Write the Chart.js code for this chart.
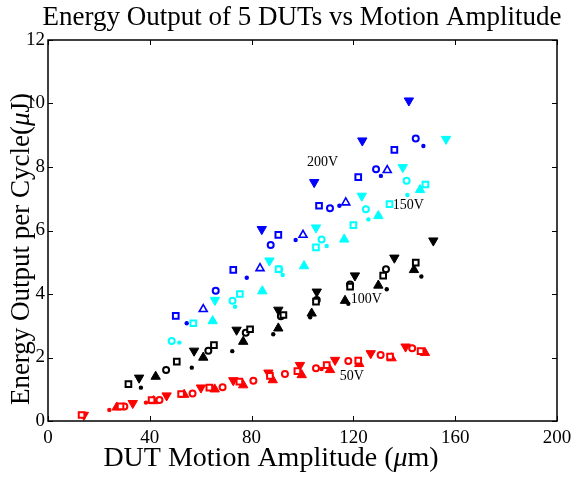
<!DOCTYPE html>
<html>
<head>
<meta charset="utf-8">
<script src="https://cdn.jsdelivr.net/npm/chart.js@4.4.0/dist/chart.umd.min.js"></script>
<style>
  html, body { margin: 0; padding: 0; background: #fff; }
</style>
</head>
<body>
<canvas id="energyChart" width="574" height="477"></canvas>
<script>
// Energy per cycle [uJ] against motion amplitude [um], as [amplitude, energy] pairs.
// Five DUTs (one marker each) measured at four drive voltages.

// 50 V
const sq50 = [[13.2, 0.19], [28.5, 0.46], [40.7, 0.66], [52.3, 0.85], [63.4, 1.05], [75.2, 1.24], [87.2, 1.42], [98, 1.57], [109.5, 1.76], [121.9, 1.90], [134.4, 2.03], [146.4, 2.2]];
const dot50 = [[24.1, 0.35], [38.5, 0.58], [107.5, 1.64]];
const circ50 = [[30, 0.46], [43.8, 0.66], [56.8, 0.87], [68.6, 1.06], [80.7, 1.27], [93.1, 1.48], [105.3, 1.66], [118, 1.89], [130.7, 2.08], [143.1, 2.29]];
const up50 = [[27, 0.43], [41.5, 0.63], [53.5, 0.83], [65.5, 1.0], [76.7, 1.13], [88.3, 1.29], [99.7, 1.45], [110.8, 1.61], [122.3, 1.8], [135, 1.98], [148.1, 2.15]];
const down50 = [[14.1, 0.19], [33.3, 0.56], [46.6, 0.8], [60.1, 1.05], [72.8, 1.28], [86.6, 1.52], [99, 1.76], [112.8, 1.92], [126.8, 2.13], [140.5, 2.34]];

// 100 V
const sq100 = [[31.6, 1.16], [50.6, 1.87], [65.2, 2.39], [79.4, 2.89], [92.5, 3.34], [105.3, 3.76], [118.7, 4.23], [131.7, 4.58], [144.5, 4.99]];
const dot100 = [[36.5, 1.05], [56.5, 1.68], [72.4, 2.2], [88.5, 2.73], [103, 3.27], [118, 3.69], [133.1, 4.15], [146.7, 4.55]];
const circ100 = [[46.4, 1.61], [63, 2.21], [77.7, 2.78], [91.5, 3.3], [105.6, 3.81], [118.7, 4.3], [132.8, 4.78]];
const up100 = [[42.3, 1.40], [61, 2.0], [76.7, 2.5], [90.5, 2.92], [103.6, 3.39], [116.7, 3.79], [129.8, 4.27], [143.8, 4.76]];
const down100 = [[35.8, 1.36], [57.4, 2.21], [74.1, 2.87], [90.5, 3.5], [105.6, 4.07], [120.6, 4.58], [136.1, 5.14], [151.4, 5.68]];

// 150 V
const sq150 = [[57.1, 3.08], [75.4, 4.0], [90.6, 4.78], [105.3, 5.47], [120, 6.17], [134.2, 6.83], [148.3, 7.45]];
const dot150 = [[51.6, 2.47], [73.5, 3.6], [92.2, 4.6], [109.5, 5.51], [125.9, 6.35], [141.2, 7.12]];
const circ150 = [[48.6, 2.52], [72.5, 3.79], [90.8, 4.78], [107.5, 5.72], [124.9, 6.67], [140.9, 7.57]];
const up150 = [[64.7, 3.15], [84.2, 4.09], [100.6, 4.88], [116.4, 5.72], [129.8, 6.46], [146.2, 7.28]];
const down150 = [[65.6, 3.81], [87, 5.05], [105.3, 6.09], [123.3, 7.09], [139.4, 7.99], [156.4, 8.88]];

// 200 V
const sq200 = [[50.2, 3.31], [72.8, 4.76], [90.5, 5.86], [106.5, 6.78], [121.9, 7.68], [136.1, 8.54]];
const dot200 = [[54.5, 3.08], [78.1, 4.51], [97.3, 5.7], [114.5, 6.78], [130.8, 7.72], [147.5, 8.66]];
const circ200 = [[65.9, 4.1], [87.5, 5.54], [110.8, 6.7], [128.9, 7.93], [144.5, 8.9]];
const up200 = [[61, 3.52], [83.3, 4.81], [100.2, 5.86], [117, 6.88], [133.3, 7.9]];
const down200 = [[84, 6.04], [104.6, 7.52], [123.5, 8.83], [141.8, 10.09]];

const xTicks = [0, 40, 80, 120, 160, 200];
const yTicks = [0, 2, 4, 6, 8, 10, 12];

// in-plot voltage tags, anchored in data units
const voltLabels = ['200V', '150V', '100V', '50V'];
const voltLabelX = [107.9, 141.6, 125.1, 119.4];
const voltLabelY = [8.14, 6.79, 3.83, 1.40];

const SERIF = '"Liberation Serif", "Times New Roman", serif';

const toPoints = pairs => pairs.map(p => ({ x: p[0], y: p[1] }));

// one dataset per DUT marker
function markerSet(label, pairs, color, kind, hollowTriangle) {
    const ds = {
        label,
        data: toPoints(pairs),
        borderColor: color,
        backgroundColor: color,
        pointHoverRadius: 0
    };
    if (kind === 'sq') {
        ds.pointStyle = 'rect';
        ds.pointRadius = 4;
        ds.borderWidth = 2;
        ds.backgroundColor = '#fff';
    } else if (kind === 'dot') {
        ds.pointStyle = 'circle';
        ds.pointRadius = 2.2;
        ds.borderWidth = 0;
    } else if (kind === 'circ') {
        ds.pointStyle = 'circle';
        ds.pointRadius = 3;
        ds.borderWidth = 2;
        ds.backgroundColor = '#fff';
    } else if (kind === 'up') {
        ds.pointStyle = 'triangle';
        ds.pointRadius = hollowTriangle ? 4.6 : 5.4;
        ds.borderWidth = hollowTriangle ? 1.6 : 1;
        if (hollowTriangle) ds.backgroundColor = '#fff';
    } else {
        ds.pointStyle = 'triangle';
        ds.pointRotation = 180;
        ds.pointRadius = 5.4;
        ds.borderWidth = 1;
    }
    return ds;
}

const RED = '#ff0000', BLACK = '#000000', CYAN = '#00ffff', BLUE = '#0000ff';

const datasets = [
    markerSet('50V sq', sq50, RED, 'sq'),
    markerSet('50V dot', dot50, RED, 'dot'),
    markerSet('50V circ', circ50, RED, 'circ'),
    markerSet('50V up', up50, RED, 'up'),
    markerSet('50V down', down50, RED, 'down'),
    markerSet('100V sq', sq100, BLACK, 'sq'),
    markerSet('100V dot', dot100, BLACK, 'dot'),
    markerSet('100V circ', circ100, BLACK, 'circ'),
    markerSet('100V up', up100, BLACK, 'up'),
    markerSet('100V down', down100, BLACK, 'down'),
    markerSet('150V sq', sq150, CYAN, 'sq'),
    markerSet('150V dot', dot150, CYAN, 'dot'),
    markerSet('150V circ', circ150, CYAN, 'circ'),
    markerSet('150V up', up150, CYAN, 'up'),
    markerSet('150V down', down150, CYAN, 'down'),
    markerSet('200V sq', sq200, BLUE, 'sq'),
    markerSet('200V dot', dot200, BLUE, 'dot'),
    markerSet('200V circ', circ200, BLUE, 'circ'),
    markerSet('200V up', up200, BLUE, 'up', true),
    markerSet('200V down', down200, BLUE, 'down')
];

// draws a string made of plain and italic pieces, centred on (cx, cy)
function drawMixed(ctx, parts, cx, cy, size) {
    const fonts = parts.map(p => (p.italic ? 'italic ' : '') + size + 'px ' + SERIF);
    let total = 0;
    parts.forEach((p, i) => { ctx.font = fonts[i]; total += ctx.measureText(p.text).width; });
    let x = cx - total / 2;
    ctx.textBaseline = 'middle';
    ctx.textAlign = 'left';
    parts.forEach((p, i) => {
        ctx.font = fonts[i];
        ctx.fillText(p.text, x, cy);
        x += ctx.measureText(p.text).width;
    });
}

const framePlugin = {
    id: 'frame',
    afterDatasetsDraw(chart) {
        const { ctx, chartArea: a, scales } = chart;
        const xs = scales.x, ys = scales.y;
        ctx.save();
        ctx.strokeStyle = '#000';
        ctx.lineWidth = 1.5;
        ctx.strokeRect(a.left, a.top, a.right - a.left, a.bottom - a.top);

        // inward tick marks on all four sides
        ctx.lineWidth = 1;
        ctx.beginPath();
        xTicks.forEach(v => {
            const px = Math.round(xs.getPixelForValue(v)) + 0.5;
            ctx.moveTo(px, a.bottom); ctx.lineTo(px, a.bottom - 5);
            ctx.moveTo(px, a.top); ctx.lineTo(px, a.top + 5);
        });
        yTicks.forEach(v => {
            const py = Math.round(ys.getPixelForValue(v)) + 0.5;
            ctx.moveTo(a.left, py); ctx.lineTo(a.left + 5, py);
            ctx.moveTo(a.right, py); ctx.lineTo(a.right - 5, py);
        });
        ctx.stroke();

        // voltage tags
        ctx.fillStyle = '#000';
        ctx.font = '14px ' + SERIF;
        ctx.textAlign = 'center';
        ctx.textBaseline = 'middle';
        voltLabels.forEach((t, i) => {
            ctx.fillText(t, xs.getPixelForValue(voltLabelX[i]), ys.getPixelForValue(voltLabelY[i]));
        });

        // title and axis titles
        ctx.font = '27px ' + SERIF;
        ctx.fillText('Energy Output of 5 DUTs vs Motion Amplitude', 302, 18);

        drawMixed(ctx, [
            { text: 'DUT Motion Amplitude (' },
            { text: 'μ', italic: true },
            { text: 'm)' }
        ], 271, 459, 28);

        ctx.translate(22, 249);
        ctx.rotate(-Math.PI / 2);
        drawMixed(ctx, [
            { text: 'Energy Output per Cycle(' },
            { text: 'μ', italic: true },
            { text: 'J)' }
        ], 0, 0, 27);
        ctx.restore();
    }
};

new Chart(document.getElementById('energyChart').getContext('2d'), {
    type: 'scatter',
    data: { datasets },
    options: {
        responsive: false,
        animation: false,
        events: [],
        layout: { padding: { top: 40, right: 17, left: 0, bottom: 0 } },
        plugins: {
            legend: { display: false },
            tooltip: { enabled: false }
        },
        scales: {
            x: {
                type: 'linear',
                min: 0,
                max: 200,
                afterFit: s => { s.height = 56; s.paddingLeft = 0; s.paddingRight = 0; },
                grid: { display: false, drawTicks: false },
                border: { display: false },
                ticks: {
                    stepSize: 40,
                    padding: 6,
                    color: '#000',
                    maxRotation: 0,
                    font: { family: SERIF, size: 19 }
                }
            },
            y: {
                type: 'linear',
                min: 0,
                max: 12,
                afterFit: s => { s.width = 48; s.paddingTop = 0; s.paddingBottom = 0; },
                grid: { display: false, drawTicks: false },
                border: { display: false },
                ticks: {
                    stepSize: 2,
                    padding: 3,
                    color: '#000',
                    font: { family: SERIF, size: 19 }
                }
            }
        }
    },
    plugins: [framePlugin]
});
</script>
</body>
</html>
